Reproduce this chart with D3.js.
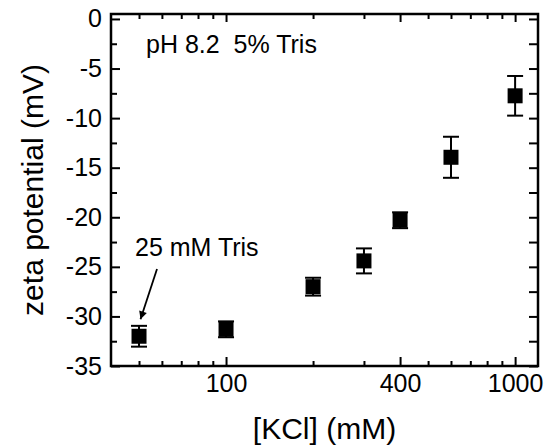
<!DOCTYPE html>
<html>
<head>
<meta charset="utf-8">
<script src="https://cdn.jsdelivr.net/npm/d3@7"></script>
<style>
  body { margin: 0; background: #fff; }
  svg { display: block; }
  text { font-family: "Liberation Sans", Arial, sans-serif; fill: #000; }
</style>
</head>
<body>
<svg id="chart" width="556" height="448"></svg>
<script>
// data
const kcl = [50, 100, 200, 300, 400, 600, 1000];
const zeta = [-32.0, -31.3, -27.0, -24.4, -20.3, -13.95, -7.75];
const zetaErr = [1.05, 0.8, 0.9, 1.26, 0.8, 2.07, 2.0];

const yMajor = [0, -5, -10, -15, -20, -25, -30, -35];
const yMinor = [-2.5, -7.5, -12.5, -17.5, -22.5, -27.5, -32.5];
const xMajor = [100, 400, 1000];
const xMinor = [50, 60, 70, 80, 90, 200, 300, 500, 600, 700, 800, 900];

const svg = d3.select("#chart");
const margin = { top: 14, right: 18, bottom: 82, left: 111 },
  w = 556 - margin.left - margin.right,
  h = 448 - margin.top - margin.bottom;

const g = svg.append("g")
  .attr("transform", "translate(" + margin.left + "," + margin.top + ")");

const x = d3.scaleLog().domain([40, 1200]).range([0, w]);
const y = d3.scaleLinear().domain([-35, 0.5]).range([h, 0]);

// plain hyphen minus, like the original
const fmt = (d) => String(d);

// axes, ticks pointing inward
function styleAxis(sel) {
  sel.select(".domain").remove();
  sel.selectAll(".tick line").attr("stroke", "#000").attr("stroke-width", 2);
  sel.selectAll(".tick text").style("font-size", "25px");
}

g.append("g").attr("transform", "translate(0," + h + ")")
  .call(d3.axisBottom(x).tickValues(xMajor).tickFormat(fmt).tickSize(-9).tickPadding(8))
  .call(styleAxis);
g.append("g").attr("transform", "translate(0," + h + ")")
  .call(d3.axisBottom(x).tickValues(xMinor).tickFormat("").tickSize(-5))
  .call(styleAxis);
g.append("g")
  .call(d3.axisTop(x).tickValues(xMajor).tickFormat("").tickSize(-8))
  .call(styleAxis);
g.append("g")
  .call(d3.axisTop(x).tickValues(xMinor).tickFormat("").tickSize(-5))
  .call(styleAxis);

g.append("g")
  .call(d3.axisLeft(y).tickValues(yMajor).tickFormat(fmt).tickSize(-9).tickPadding(9))
  .call(styleAxis);
g.append("g")
  .call(d3.axisLeft(y).tickValues(yMinor).tickFormat("").tickSize(-6))
  .call(styleAxis);
g.append("g").attr("transform", "translate(" + w + ",0)")
  .call(d3.axisRight(y).tickValues(yMajor.concat(yMinor)).tickFormat("").tickSize(-9))
  .call(styleAxis);

g.append("rect")
  .attr("width", w).attr("height", h)
  .attr("fill", "none").attr("stroke", "#000").attr("stroke-width", 2.5);

// error bars
const pts = kcl.map((k, i) => ({ k: k, v: zeta[i], e: zetaErr[i] }));
const capW = 8;
const eb = g.selectAll(".err").data(pts).enter().append("g").attr("class", "err")
  .attr("stroke", "#000").attr("stroke-width", 2);
eb.append("line")
  .attr("x1", (d) => x(d.k)).attr("x2", (d) => x(d.k))
  .attr("y1", (d) => y(d.v + d.e)).attr("y2", (d) => y(d.v - d.e));
eb.append("line")
  .attr("x1", (d) => x(d.k) - capW).attr("x2", (d) => x(d.k) + capW)
  .attr("y1", (d) => y(d.v + d.e)).attr("y2", (d) => y(d.v + d.e));
eb.append("line")
  .attr("x1", (d) => x(d.k) - capW).attr("x2", (d) => x(d.k) + capW)
  .attr("y1", (d) => y(d.v - d.e)).attr("y2", (d) => y(d.v - d.e));

// square markers
const sz = 15;
g.selectAll(".pt").data(pts).enter().append("rect").attr("class", "pt")
  .attr("x", (d) => x(d.k) - sz / 2)
  .attr("y", (d) => y(d.v) - sz / 2)
  .attr("width", sz).attr("height", sz)
  .attr("fill", "#000");

// annotations
g.append("text")
  .attr("x", x(40) + 35).attr("y", 39)
  .style("font-size", "25px")
  .attr("xml:space", "preserve")
  .text("pH 8.2  5% Tris");

g.append("text")
  .attr("x", 24).attr("y", 242)
  .style("font-size", "25px")
  .text("25 mM Tris");

svg.append("defs").append("marker")
  .attr("id", "arrow")
  .attr("viewBox", "0 0 10 10")
  .attr("refX", 10).attr("refY", 5)
  .attr("markerWidth", 13).attr("markerHeight", 8)
  .attr("markerUnits", "userSpaceOnUse")
  .attr("orient", "auto")
  .append("path").attr("d", "M0,0 L10,5 L0,10 z").attr("fill", "#000");

g.append("line")
  .attr("x1", 46).attr("y1", 255)
  .attr("x2", x(50) + 1.5).attr("y2", y(-32.0) - 17)
  .attr("stroke", "#000").attr("stroke-width", 1.8)
  .attr("marker-end", "url(#arrow)");

// axis titles
svg.append("text")
  .attr("x", margin.left + w / 2).attr("y", 439)
  .attr("text-anchor", "middle")
  .style("font-size", "30px")
  .text("[KCl] (mM)");

svg.append("text")
  .attr("transform", "translate(43," + (margin.top + h / 2) + ") rotate(-90)")
  .attr("text-anchor", "middle")
  .style("font-size", "30px")
  .text("zeta potential (mV)");
</script>
</body>
</html>
